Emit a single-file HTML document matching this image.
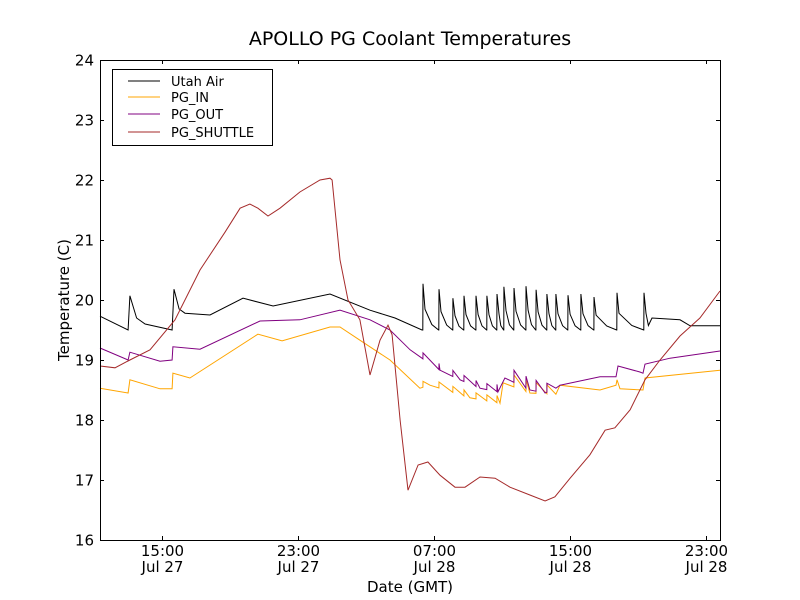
<!DOCTYPE html>
<html><head><meta charset="utf-8"><style>
body{margin:0;background:#fff;}
svg{display:block;font-family:"DejaVu Sans","Liberation Sans",sans-serif;}
</style></head><body>
<svg id="chart" width="800" height="600" xmlns="http://www.w3.org/2000/svg">
<rect width="800" height="600" fill="#fff"/>
<text x="410" y="45" text-anchor="middle" font-size="19">APOLLO PG Coolant Temperatures</text>
<g id="plot"></g>
<g id="axes"></g>
<text x="410" y="592" text-anchor="middle" font-size="15">Date (GMT)</text>
<text transform="translate(69,300) rotate(-90)" text-anchor="middle" font-size="15">Temperature (C)</text>
<g>
<rect x="112.5" y="69.5" width="160" height="76" fill="#fff" stroke="#000" stroke-width="1"/>
<line x1="128" y1="81" x2="160" y2="81" stroke="#000"/>
<text x="171" y="86" font-size="13">Utah Air</text>
<line x1="128" y1="97" x2="160" y2="97" stroke="orange"/>
<text x="171" y="102" font-size="13">PG_IN</text>
<line x1="128" y1="114" x2="160" y2="114" stroke="purple"/>
<text x="171" y="119" font-size="13">PG_OUT</text>
<line x1="128" y1="132" x2="160" y2="132" stroke="brown"/>
<text x="171" y="137" font-size="13">PG_SHUTTLE</text>
</g>
</svg>
<script>
// hours since Jul 27 00:00 GMT
const xTicks = [15, 23, 31, 39, 47];
const xTickTimes = ["15:00","23:00","07:00","15:00","23:00"];
const xTickDates = ["Jul 27","Jul 27","Jul 28","Jul 28","Jul 28"];
const yTicks = [16,17,18,19,20,21,22,23,24];

const airBase = [[11.35,19.73],[13.00,19.5],[13.11,20.07],[13.5,19.7],[14.0,19.6],[15.59,19.5],[15.70,20.18],[16.0,19.85],[16.35,19.78],[17.82,19.75],[19.76,20.03],[21.53,19.9],[24.88,20.1],[27.23,19.83],[28.70,19.7],[30.29,19.5]];
const airSpikeTimes = [30.35,31.29,32.11,32.76,33.47,34.11,34.70,35.11,35.70,36.41,37.0,37.64,38.17,38.88,39.64,40.41,41.76,43.35];
const airSpikePeaks = [20.27,20.18,20.03,20.07,20.07,20.07,20.1,20.22,20.2,20.23,20.17,20.1,20.1,20.08,20.1,20.05,20.12,20.12];
const airTail = [[43.82,19.7],[45.47,19.67],[46.06,19.57],[47.82,19.57]];

const outBase = [[11.35,19.2],[13.0,19.0],[13.11,19.13],[14.88,18.98],[15.59,19.0],[15.64,19.22],[17.23,19.18],[20.76,19.65],[23.11,19.67],[25.47,19.83],[27.23,19.67],[28.41,19.5],[29.59,19.17],[30.29,19.03],[31.35,18.83],[32.53,18.67],[33.70,18.53],[34.76,18.47],[35.17,18.7],[36.64,18.5],[37.53,18.45],[38.17,18.53],[38.41,18.58],[40.76,18.72],[41.70,18.72],[41.82,18.9],[43.11,18.8],[43.29,18.78],[43.41,18.93],[44.88,19.03],[47.82,19.15]];
const inBase = [[11.35,18.53],[13.0,18.45],[13.11,18.67],[14.88,18.52],[15.59,18.52],[15.64,18.78],[16.64,18.7],[20.64,19.43],[22.06,19.32],[24.88,19.55],[25.47,19.55],[26.64,19.33],[28.41,19.0],[30.17,18.53],[30.76,18.58],[33.11,18.37],[34.88,18.28],[35.06,18.62],[36.64,18.45],[38.17,18.43],[38.41,18.58],[40.76,18.5],[41.70,18.58],[41.76,18.67],[41.94,18.52],[43.29,18.5],[43.41,18.7],[47.82,18.83]];
const toothTimes = [30.35,31.29,32.11,32.76,33.47,34.11,34.70,35.70,36.41,37.0,37.64];
const toothHeights = [0.1,0.1,0.1,0.1,0.1,0.1,0.12,0.2,0.2,0.18,0.15];

const shuttle = [[11.35,18.9],[12.23,18.87],[13.11,19.0],[14.29,19.17],[15.76,19.67],[17.23,20.5],[18.70,21.13],[19.59,21.53],[20.17,21.6],[20.64,21.53],[21.23,21.4],[21.94,21.53],[23.11,21.8],[24.29,22.0],[24.88,22.03],[25.0,22.0],[25.47,20.67],[25.94,20.0],[26.64,19.67],[27.23,18.75],[27.82,19.33],[28.29,19.58],[28.53,19.42],[29.0,18.0],[29.47,16.83],[30.06,17.25],[30.64,17.3],[31.35,17.08],[32.23,16.88],[32.82,16.88],[33.70,17.05],[34.59,17.03],[35.47,16.88],[36.64,16.75],[37.53,16.65],[38.11,16.72],[39.0,17.03],[40.17,17.42],[41.06,17.83],[41.64,17.87],[42.53,18.17],[43.41,18.67],[44.29,19.0],[45.47,19.4],[46.64,19.7],[47.82,20.15]];

const X0=100,X1=720,Y0=540,Y1=60,XMIN=11.35,XMAX=47.82,YMIN=16,YMAX=24;
const xs = h => X0 + (h-XMIN)/(XMAX-XMIN)*(X1-X0);
const ys = v => Y0 - (v-YMIN)/(YMAX-YMIN)*(Y0-Y1);
const NS="http://www.w3.org/2000/svg";
const plot=document.getElementById('plot'), axes=document.getElementById('axes');

function interp(pts,t){for(let i=1;i<pts.length;i++){if(pts[i][0]>=t){const a=pts[i-1],b=pts[i];return a[1]+(b[1]-a[1])*(t-a[0])/((b[0]-a[0])||1);}}return pts[pts.length-1][1];}
function withTeeth(base){
  let pts=base.slice();
  toothTimes.forEach((t,i)=>{const v=interp(base,t);pts.push([t-0.005,v]);pts.push([t,v+toothHeights[i]]);});
  return pts.sort((a,b)=>a[0]-b[0]);
}
function airSeries(){
  let pts=airBase.slice();
  airSpikeTimes.forEach((t,i)=>{
    const p=airSpikePeaks[i], nxt=airSpikeTimes[i+1]||t+0.47;
    pts.push([t-0.01,19.5]);pts.push([t,p]);
    const d=Math.min(0.12,(nxt-t)*0.3);pts.push([t+d,19.5+0.45*(p-19.5)]);
    pts.push([t+(nxt-t)*0.55,19.5+0.12*(p-19.5)]);
    if(i<airSpikeTimes.length-1)pts.push([nxt-0.02,19.5]);
  });
  return pts.concat(airTail);
}
function line(pts,color,name){
  const p=document.createElementNS(NS,'path');
  p.setAttribute('d',pts.map((q,i)=>(i?'L':'M')+xs(q[0]).toFixed(1)+' '+ys(q[1]).toFixed(1)).join(''));
  p.setAttribute('fill','none');p.setAttribute('stroke',color);p.setAttribute('stroke-width','1');
  
  
  plot.appendChild(p);
}
line(withTeeth(inBase),'orange','pg-in-line');
line(withTeeth(outBase),'purple','pg-out-line');
line(airSeries(),'black','utah-air-line');
line(shuttle,'brown','pg-shuttle-line');

const frame=document.createElementNS(NS,'rect');
frame.setAttribute('x',X0+0.5);frame.setAttribute('y',Y1+0.5);frame.setAttribute('width',X1-X0);frame.setAttribute('height',Y0-Y1);
frame.setAttribute('fill','none');frame.setAttribute('stroke','#000');


axes.appendChild(frame);
function tick(x1,y1,x2,y2){const l=document.createElementNS(NS,'line');l.setAttribute('x1',x1);l.setAttribute('y1',y1);l.setAttribute('x2',x2);l.setAttribute('y2',y2);l.setAttribute('stroke','#000');axes.appendChild(l);}
function txt(x,y,s,anchor,name){const t=document.createElementNS(NS,'text');t.setAttribute('x',x);t.setAttribute('y',y);t.setAttribute('font-size','15');t.setAttribute('text-anchor',anchor);t.textContent=s;
  
  
  document.getElementById('chart').appendChild(t);}
yTicks.forEach(v=>{const y=Math.round(ys(v))+0.5;tick(X0,y,X0+4,y);tick(X1-4,y,X1,y);txt(X0-6,y+5,String(v),'end','y-tick-label');});
xTicks.forEach((h,i)=>{const x=Math.round(xs(h))+0.5;tick(x,Y0,x,Y0-4);tick(x,Y1,x,Y1+4);txt(x,556,xTickTimes[i],'middle','x-tick-time');txt(x,572,xTickDates[i],'middle','x-tick-date');});
</script>
</body></html>
